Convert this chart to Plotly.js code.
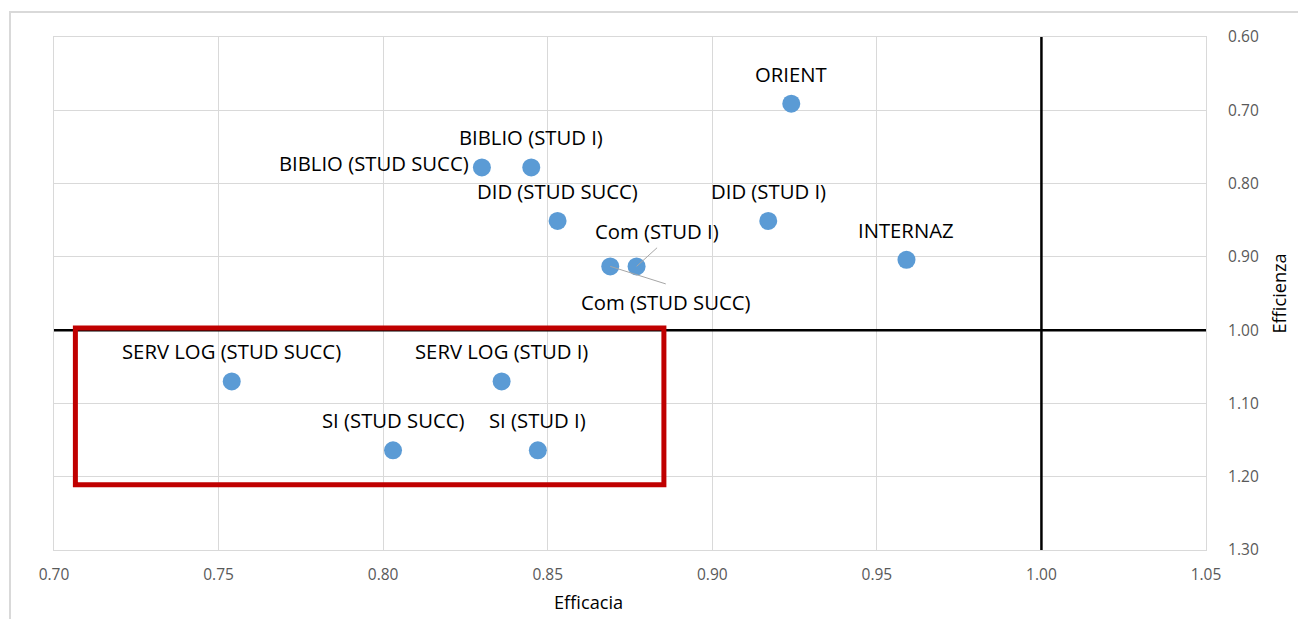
<!DOCTYPE html>
<html>
<head>
<meta charset="utf-8">
<script src="https://cdn.plot.ly/plotly-3.0.1.min.js"></script>
<style>
  html, body { margin: 0; padding: 0; background: #fff; }
  #wrap { position: relative; width: 1298px; height: 619px; overflow: hidden; }
  #frame { position: absolute; left: 9px; top: 11px; width: 1300px; height: 620px;
           border-left: 2px solid #d9d9d9; border-top: 2px solid #d9d9d9; box-sizing: border-box; pointer-events: none; }
  #chart { position: absolute; left: 0; top: 0; width: 1298px; height: 619px; }
</style>
</head>
<body>
<div id="wrap">
  <div id="chart"></div>
  <div id="frame"></div>
</div>
<script>
// ---- data ----
const names = ["ORIENT", "BIBLIO (STUD I)", "BIBLIO (STUD SUCC)", "DID (STUD SUCC)", "DID (STUD I)",
               "INTERNAZ", "Com (STUD I)", "Com (STUD SUCC)", "SERV LOG (STUD SUCC)", "SERV LOG (STUD I)",
               "SI (STUD SUCC)", "SI (STUD I)"];
const efficacia = [0.924, 0.845, 0.830, 0.853, 0.917, 0.959, 0.877, 0.869, 0.754, 0.836, 0.803, 0.847];
const efficienza = [0.691, 0.778, 0.778, 0.851, 0.851, 0.904, 0.913, 0.913, 1.070, 1.070, 1.164, 1.164];
const xTicks = [0.70, 0.75, 0.80, 0.85, 0.90, 0.95, 1.00, 1.05];
const yTicks = [0.60, 0.70, 0.80, 0.90, 1.00, 1.10, 1.20, 1.30];
const xRange = [0.70, 1.05];
const yRange = [1.30, 0.60];
const threshold = 1.00;
const boxX = [0.7065, 0.8853];
const boxY = [0.997, 1.211];

// ---- label placement (pixel offsets, style only) ----
const labelPlace = {
  "BIBLIO (STUD SUCC)": {xanchor: "right", xshift: -11, yshift: 4},
  "Com (STUD I)": {xshift: 20, yshift: 35, leader: [22, -20]},
  "Com (STUD SUCC)": {xshift: 56, yshift: -36, leader: [57, 18]}
};

const labelFont = {family: "Open Sans, sans-serif", size: 20.3, color: "#000"};
const annotations = [];
names.forEach((n, i) => {
  const p = labelPlace[n] || {};
  annotations.push({
    x: efficacia[i], y: efficienza[i], xref: "x", yref: "y",
    text: n, showarrow: false, font: labelFont,
    xanchor: p.xanchor || "center", yanchor: "middle",
    xshift: p.xshift !== undefined ? p.xshift : 0,
    yshift: p.yshift !== undefined ? p.yshift : 30
  });
  if (p.leader) {
    annotations.push({
      x: efficacia[i], y: efficienza[i], xref: "x", yref: "y",
      text: "", showarrow: true, arrowhead: 0, arrowwidth: 1, arrowcolor: "#a6a6a6",
      ax: p.leader[0], ay: p.leader[1], standoff: 0
    });
  }
});
annotations.push({
  text: "Efficacia", xref: "paper", yref: "paper", x: 0.464, y: 0, yshift: -52,
  showarrow: false, xanchor: "center", yanchor: "middle",
  font: {family: "Open Sans, sans-serif", size: 18.2, color: "#000"}
});
annotations.push({
  text: "Efficienza", xref: "paper", yref: "paper", x: 1, xshift: 72, y: 0.5,
  textangle: -90, showarrow: false, xanchor: "center", yanchor: "middle",
  font: {family: "Open Sans, sans-serif", size: 18.2, color: "#000"}
});

const trace = {
  type: "scatter", mode: "markers", x: efficacia, y: efficienza, text: names,
  marker: {size: 18, color: "#5B9BD5"}, hoverinfo: "text", cliponaxis: false
};

const tickFont = {family: "Open Sans, sans-serif", size: 15.5, color: "#595959"};
const layout = {
  width: 1298, height: 619,
  margin: {l: 54, r: 92, t: 37, b: 69},
  paper_bgcolor: "rgba(0,0,0,0)", plot_bgcolor: "#fff",
  showlegend: false,
  xaxis: {
    range: xRange, tickvals: xTicks, ticktext: xTicks.map(v => v.toFixed(2)),
    showgrid: true, gridcolor: "#d9d9d9", gridwidth: 1, zeroline: false,
    showline: true, linecolor: "#d9d9d9", linewidth: 1, mirror: true,
    ticks: "", tickfont: tickFont, ticklabelstandoff: 10
  },
  yaxis: {
    range: yRange, tickvals: yTicks, ticktext: yTicks.map(v => v.toFixed(2)),
    side: "right",
    showgrid: true, gridcolor: "#d9d9d9", gridwidth: 1, zeroline: false,
    showline: true, linecolor: "#d9d9d9", linewidth: 1, mirror: true,
    ticks: "", tickfont: tickFont, ticklabelstandoff: 18
  },
  shapes: [
    {type: "line", xref: "x", yref: "paper", x0: threshold, x1: threshold, y0: 0, y1: 1,
     line: {color: "#000", width: 2.5}, layer: "above"},
    {type: "line", xref: "paper", yref: "y", x0: 0, x1: 1, y0: threshold, y1: threshold,
     line: {color: "#000", width: 2.5}, layer: "above"},
    {type: "rect", xref: "x", yref: "y", x0: boxX[0], x1: boxX[1], y0: boxY[0], y1: boxY[1],
     line: {color: "#C00000", width: 5}, fillcolor: "rgba(0,0,0,0)", layer: "above"}
  ],
  annotations: annotations,
  font: {family: "Open Sans, sans-serif"}
};

Plotly.newPlot("chart", [trace], layout, {displayModeBar: false, staticPlot: true});
</script>
</body>
</html>
